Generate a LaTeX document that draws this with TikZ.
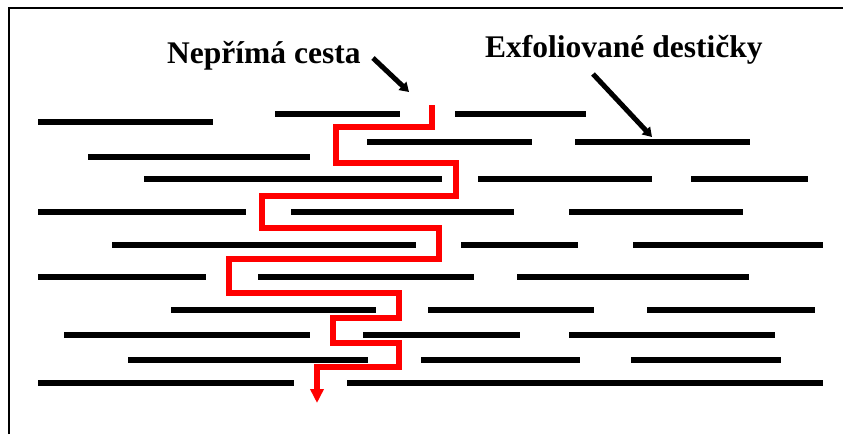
\documentclass[tikz,border=0pt]{standalone}
\usepackage{fontspec}
\setmainfont{Liberation Serif}
\usetikzlibrary{arrows.meta}
\begin{document}
\begin{tikzpicture}[x=1pt,y=-1pt,
  platelet/.style={line width=5.5pt,black},
  pathline/.style={line width=5.5pt,red,line join=miter,-{Triangle[length=14pt,width=13pt]}},
  pointer/.style={line width=5pt,black,-{Triangle[length=9pt,width=11pt]}},
  label/.style={font=\fontsize{31.5}{37}\selectfont\bfseries,inner sep=0pt,anchor=base west}]
\useasboundingbox (0,0) rectangle (843,434);
% frame (top and left edges)
\draw[line width=1.6pt] (9,434) -- (9,8) -- (843,8);
% exfoliated platelets: y, then segments x1/x2
\foreach \y/\segs in {
  114/{275/400,455/586},
  122/{38/213},
  142/{367/532,575/750},
  157/{88/310},
  179/{144/442,478/652,691/808},
  212/{38/246,291/514,569/743},
  245/{112/416,461/578,633/823},
  277/{38/206,258/474,517/749},
  310/{171/376,428/594,647/815},
  335/{64/310,363/520,569/775},
  360/{128/368,421/580,631/781},
  383/{38/294,347/823}}{
  \foreach \a/\b in \segs { \draw[platelet] (\a,\y) -- (\b,\y); }
}
% tortuous diffusion path
\coordinate (pin) at (432,105);
\coordinate (pout) at (317,403);
\draw[pathline] (pin) -- (432,127) -- (336,127) -- (336,163) -- (456,163) -- (456,196)
  -- (262,196) -- (262,228) -- (439,228) -- (439,259) -- (229,259) -- (229,293)
  -- (399,293) -- (399,318) -- (333,318) -- (333,343) -- (399,343) -- (399,367)
  -- (317,367) -- (pout);
% labels
\node[label] (cesta) at (167,63) {Nepřímá cesta};
\node[label] (dest) at (485,57) {Exfoliované destičky};
\coordinate (c1) at (373,58);
\coordinate (c2) at (409,92);
\coordinate (d1) at (593,74);
\coordinate (d2) at (652,137);
\draw[pointer] (c1) -- (c2);
\draw[pointer] (d1) -- (d2);
\end{tikzpicture}
\end{document}
